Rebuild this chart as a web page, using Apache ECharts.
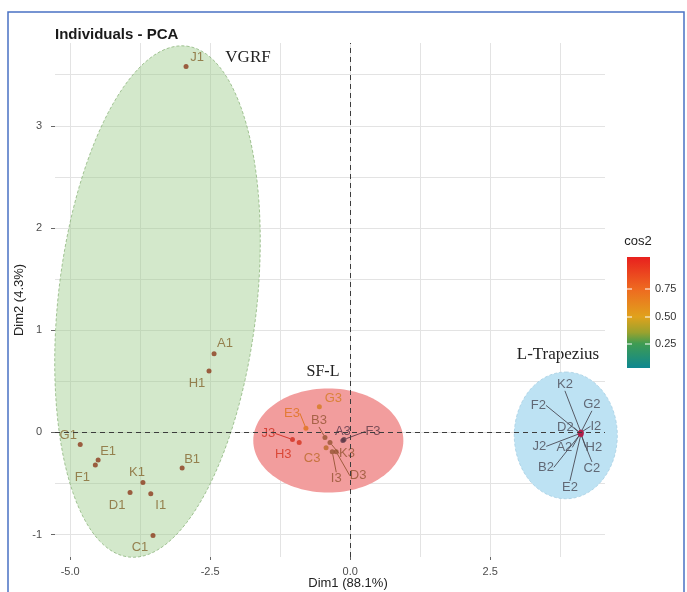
<!DOCTYPE html>
<html>
<head>
<meta charset="utf-8">
<script src="https://cdn.jsdelivr.net/npm/echarts@6/dist/echarts.min.js"></script>
<style>
  html, body { margin: 0; padding: 0; background: #fff; }
  #main { width: 687px; height: 592px; }
</style>
</head>
<body>
<div id="main"></div>
<script>
// VGRF individuals
var vgrfNames = ['A1', 'B1', 'C1', 'D1', 'E1', 'F1', 'G1', 'H1', 'I1', 'J1', 'K1'];
var vgrfDim1 = [-2.43, -3.00, -3.52, -3.93, -4.50, -4.55, -4.82, -2.52, -3.56, -2.93, -3.70];
var vgrfDim2 = [0.77, -0.35, -1.01, -0.59, -0.27, -0.32, -0.12, 0.60, -0.60, 3.58, -0.49];

// SF-L individuals
var sflNames = ['A3', 'B3', 'C3', 'D3', 'E3', 'F3', 'G3', 'H3', 'I3', 'J3', 'K3'];
var sflDim1 = [-0.13, -0.45, -0.43, -0.25, -0.79, -0.11, -0.55, -0.91, -0.32, -1.03, -0.36];
var sflDim2 = [-0.08, -0.05, -0.15, -0.19, 0.04, -0.07, 0.25, -0.10, -0.19, -0.07, -0.10];
var sflCos2 = [0.05, 0.30, 0.45, 0.30, 0.65, 0.08, 0.55, 0.85, 0.30, 0.90, 0.30];

// L-Trapezius individuals (all sit on top of each other)
var ltrNames = ['A2', 'B2', 'C2', 'D2', 'E2', 'F2', 'G2', 'H2', 'I2', 'J2', 'K2'];
var ltrDim1 = [4.11, 4.12, 4.12, 4.11, 4.12, 4.11, 4.12, 4.12, 4.12, 4.11, 4.12];
var ltrDim2 = [-0.01, -0.01, -0.02, -0.01, -0.02, -0.01, 0.00, -0.01, 0.00, -0.01, 0.00];

// group ellipses: centre and two half-axis vectors (data units)
var groupNames = ['VGRF', 'SF-L', 'L-Trapezius'];
var ellCx = [-3.44, -0.39, 3.85];
var ellCy = [1.28, -0.08, -0.03];
var ellUx = [0.52, 0, 0];
var ellUy = [2.50, 0.51, 0.62];
var ellVx = [1.76, 1.34, 0.92];
var ellVy = [-0.12, 0, 0];

var xLabelTicks = [-5, -2.5, 0, 2.5];
var xGridTicks = [-5, -3.75, -2.5, -1.25, 0, 1.25, 2.5, 3.75];
var yLabelTicks = [-1, 0, 1, 2, 3];
var yGridTicks = [-1, -0.5, 0, 0.5, 1, 1.5, 2, 2.5, 3, 3.5];

// label offsets in px (label centre relative to the point)
var labelShift = {
  J1: [11, -9], A1: [11, -10], H1: [-12, 12], G1: [-12, -9], E1: [10, -9], F1: [-13, 12],
  B1: [10, -9], K1: [-6, -10], D1: [-13, 13], I1: [10, 12], C1: [-13, 12],
  G3: [14, -8], E3: [-14, -15], B3: [-6, -17], J3: [-24, -6], H3: [-16, 12], C3: [-14, 11],
  K3: [17, 11], I3: [4, 27], D3: [22, 24], A3: [0, -9], F3: [29, -8],
  K2: [-16, -48], F2: [-42, -28], G2: [11, -28], D2: [-15, -6], I2: [15, -6],
  J2: [-41, 13], A2: [-16, 14], H2: [13, 14], B2: [-35, 34], C2: [11, 34], E2: [-11, 53]
};
var noLine = ['G3', 'A3', 'H3', 'C3'];

var ellStyle = [
  { fill: 'rgba(150,200,130,0.42)', stroke: '#8db57c', lineDash: [3, 2] },
  { fill: '#f29d9d', stroke: null, lineDash: null },
  { fill: '#bde2f3', stroke: '#a7cfe3', lineDash: [3, 2] }
];

function buildData(names, d1, d2, extra) {
  return names.map(function (n, i) {
    var item = { name: n, value: extra ? [d1[i], d2[i], extra[i]] : [d1[i], d2[i]] };
    if (noLine.indexOf(n) >= 0) item.labelLine = { show: false };
    return item;
  });
}

function shiftLabel(names) {
  return function (p) {
    var s = labelShift[names[p.dataIndex]];
    return { dx: s[0], dy: s[1] };
  };
}

var labelFont = { fontFamily: 'Liberation Sans', fontSize: 13, textBorderWidth: 0 };
var gridLine = { show: true, lineStyle: { color: '#e3e3e3', width: 1 } };

var chart = echarts.init(document.getElementById('main'));
chart.setOption({
  animation: false,
  title: {
    text: 'Individuals - PCA',
    left: 50, top: 22,
    textStyle: { fontFamily: 'Liberation Sans', fontSize: 15, fontWeight: 'bold', color: '#1a1a1a' }
  },
  grid: { left: 55, right: 82, top: 43, bottom: 35 },
  xAxis: [
    {
      type: 'value', min: -5.27, max: 4.55,
      axisLine: { show: false, onZero: false },
      axisTick: { show: false, customValues: xGridTicks },
      axisLabel: {
        customValues: xLabelTicks, margin: 9,
        formatter: function (v) { return v.toFixed(1); },
        color: '#4d4d4d', fontFamily: 'Liberation Sans', fontSize: 11
      },
      splitLine: gridLine
    },
    {
      // tick marks only
      type: 'value', min: -5.27, max: 4.55, position: 'bottom',
      axisLine: { show: false, onZero: false },
      axisTick: { show: true, length: 3, customValues: xLabelTicks, lineStyle: { color: '#666' } },
      axisLabel: { show: false },
      splitLine: { show: false }
    }
  ],
  yAxis: [
    {
      type: 'value', min: -1.22, max: 3.81,
      name: 'Dim2 (4.3%)', nameLocation: 'middle', nameGap: 29, nameMoveOverlap: false,
      nameTextStyle: { fontFamily: 'Liberation Sans', fontSize: 13, color: '#222' },
      axisLine: { show: false, onZero: false },
      axisTick: { show: false, customValues: yGridTicks },
      axisLabel: {
        customValues: yLabelTicks, margin: 13,
        color: '#4d4d4d', fontFamily: 'Liberation Sans', fontSize: 11
      },
      splitLine: gridLine
    },
    {
      type: 'value', min: -1.22, max: 3.81, position: 'left',
      axisLine: { show: false, onZero: false },
      axisTick: { show: true, length: 4, customValues: yLabelTicks, lineStyle: { color: '#666' } },
      axisLabel: { show: false },
      splitLine: { show: false }
    }
  ],
  visualMap: {
    show: false, seriesIndex: 2, dimension: 2, min: 0, max: 1,
    inRange: { color: ['#4a2f4f', '#7a4838', '#b0602c', '#e0841a', '#d63a1e', '#cc1f1f'] }
  },
  series: [
    {
      type: 'custom',
      z: 1,
      data: groupNames.map(function (n, i) { return [ellCx[i], ellCy[i]]; }),
      renderItem: function (params, api) {
        var i = params.dataIndex;
        var pts = [];
        for (var k = 0; k < 120; k++) {
          var t = k / 120 * Math.PI * 2;
          var c = Math.cos(t), s = Math.sin(t);
          pts.push(api.coord([ellCx[i] + ellUx[i] * c + ellVx[i] * s, ellCy[i] + ellUy[i] * c + ellVy[i] * s]));
        }
        var st = ellStyle[i];
        return {
          type: 'polygon',
          shape: { points: pts },
          style: { fill: st.fill, stroke: st.stroke, lineWidth: 0.8, lineDash: st.lineDash }
        };
      },
      markLine: {
        silent: true, symbol: ['none', 'none'], label: { show: false },
        lineStyle: { type: [5, 4], color: '#3c3c3c', width: 1 },
        data: [{ xAxis: 0 }, { yAxis: 0 }]
      }
    },
    {
      name: 'VGRF', type: 'scatter', z: 3, symbolSize: 5,
      itemStyle: { color: '#8c3a1c' },
      data: buildData(vgrfNames, vgrfDim1, vgrfDim2),
      label: Object.assign({ show: true, position: 'inside', formatter: '{b}', color: '#85652e' }, labelFont),
      labelLine: { show: false },
      labelLayout: shiftLabel(vgrfNames)
    },
    {
      name: 'SF-L', type: 'scatter', z: 3, symbolSize: 5,
      data: buildData(sflNames, sflDim1, sflDim2, sflCos2),
      label: Object.assign({ show: true, position: 'inside', formatter: '{b}', color: 'inherit' }, labelFont),
      labelLine: { show: true, length2: 0, lineStyle: { width: 0.9 } },
      labelLayout: shiftLabel(sflNames)
    },
    {
      name: 'L-Trapezius', type: 'scatter', z: 3, symbolSize: 5,
      itemStyle: { color: '#b01e4a' },
      data: buildData(ltrNames, ltrDim1, ltrDim2),
      label: Object.assign({ show: true, position: 'inside', formatter: '{b}', color: '#4a4a55' }, labelFont),
      labelLine: { show: true, length2: 0, lineStyle: { color: '#4a4a55', width: 0.9 } },
      labelLayout: shiftLabel(ltrNames)
    }
  ],
  graphic: [
    { type: 'rect', silent: true, shape: { x: 8, y: 12, width: 676, height: 600 },
      style: { fill: 'none', stroke: '#4a72c4', lineWidth: 1.5 } },
    { type: 'text', x: 348, y: 583, style: { text: 'Dim1 (88.1%)', fill: '#222', font: '13px Liberation Sans', textAlign: 'center', textVerticalAlign: 'middle' } },
    { type: 'text', x: 248, y: 58, style: { text: 'VGRF', fill: '#222', font: '17px Liberation Serif', textAlign: 'center', textVerticalAlign: 'middle' } },
    { type: 'text', x: 323, y: 372, style: { text: 'SF-L', fill: '#222', font: '16px Liberation Serif', textAlign: 'center', textVerticalAlign: 'middle' } },
    { type: 'text', x: 558, y: 355, style: { text: 'L-Trapezius', fill: '#222', font: '17px Liberation Serif', textAlign: 'center', textVerticalAlign: 'middle' } },
    { type: 'text', x: 638, y: 241, style: { text: 'cos2', fill: '#222', font: '13px Liberation Sans', textAlign: 'center', textVerticalAlign: 'middle' } },
    { type: 'rect', shape: { x: 627, y: 257, width: 23, height: 111 },
      style: { fill: new echarts.graphic.LinearGradient(0, 0, 0, 1, [
        { offset: 0, color: '#e8201e' },
        { offset: 0.29, color: '#ee6a20' },
        { offset: 0.54, color: '#e0a21c' },
        { offset: 0.68, color: '#9aa22e' },
        { offset: 0.78, color: '#3f9c52' },
        { offset: 1, color: '#0e8790' }
      ]) } },
    { type: 'line', shape: { x1: 627, y1: 289, x2: 632, y2: 289 }, style: { stroke: '#fff', lineWidth: 1 } },
    { type: 'line', shape: { x1: 645, y1: 289, x2: 650, y2: 289 }, style: { stroke: '#fff', lineWidth: 1 } },
    { type: 'line', shape: { x1: 627, y1: 317, x2: 632, y2: 317 }, style: { stroke: '#fff', lineWidth: 1 } },
    { type: 'line', shape: { x1: 645, y1: 317, x2: 650, y2: 317 }, style: { stroke: '#fff', lineWidth: 1 } },
    { type: 'line', shape: { x1: 627, y1: 344, x2: 632, y2: 344 }, style: { stroke: '#fff', lineWidth: 1 } },
    { type: 'line', shape: { x1: 645, y1: 344, x2: 650, y2: 344 }, style: { stroke: '#fff', lineWidth: 1 } },
    { type: 'text', x: 655, y: 289, style: { text: '0.75', fill: '#333', font: '11px Liberation Sans', textVerticalAlign: 'middle' } },
    { type: 'text', x: 655, y: 317, style: { text: '0.50', fill: '#333', font: '11px Liberation Sans', textVerticalAlign: 'middle' } },
    { type: 'text', x: 655, y: 344, style: { text: '0.25', fill: '#333', font: '11px Liberation Sans', textVerticalAlign: 'middle' } }
  ]
});
</script>
</body>
</html>
